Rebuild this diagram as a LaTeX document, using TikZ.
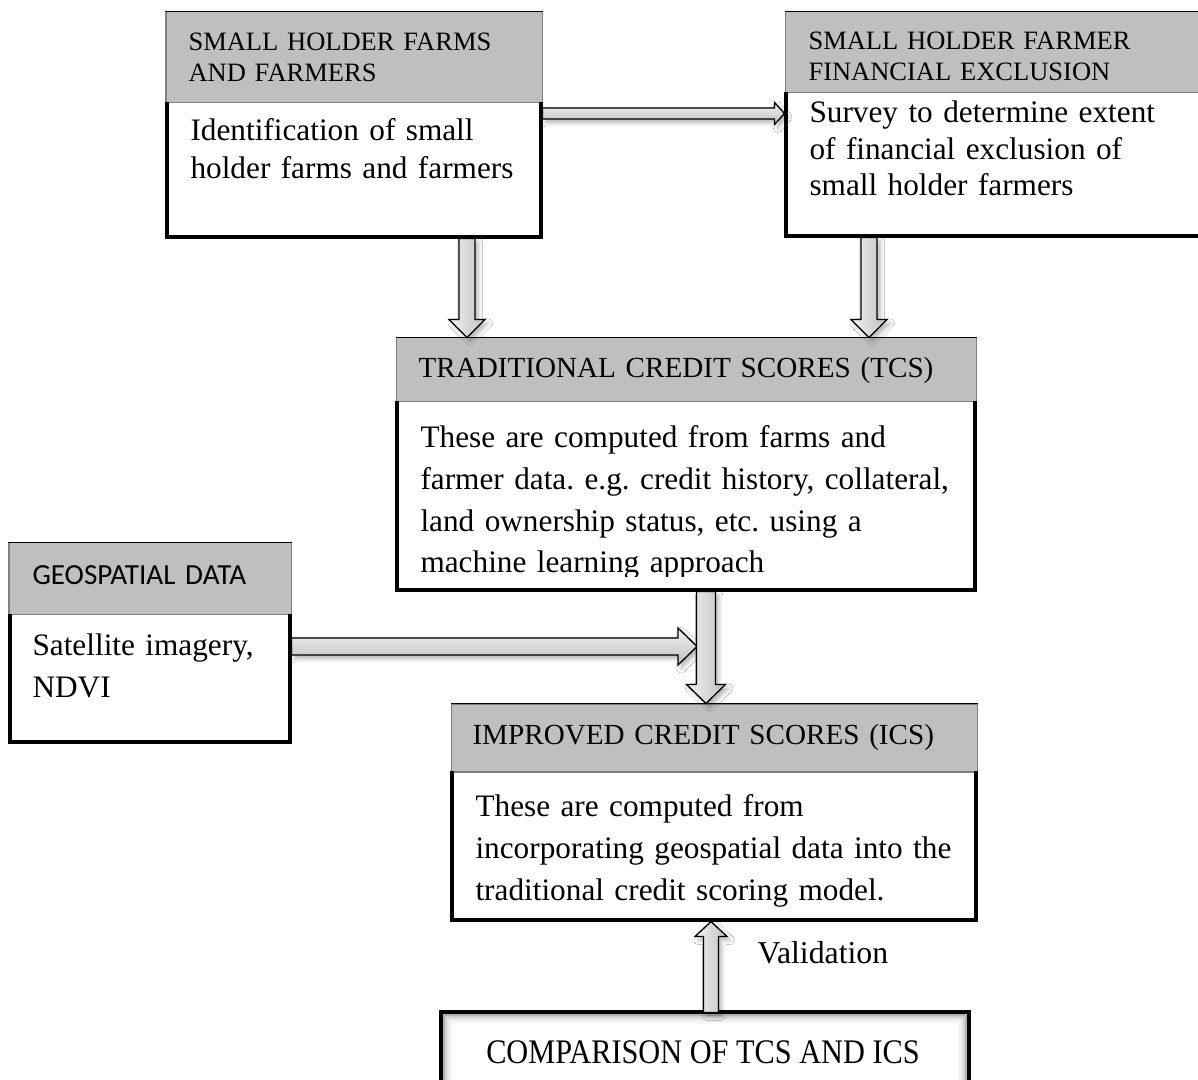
\documentclass[tikz,border=0pt]{standalone}
\usepackage{fontspec}
\setmainfont{Liberation Serif}
\newfontfamily\calibrifont{Carlito}
\usetikzlibrary{fit,calc,shadows.blur}
\frenchspacing

% one framed box: grey title strip on top, white body with heavy edges
\newcommand\flowbox[6]{%
  \node[bodybox, fit={(#2,#5)(#4,#6)}] (#1) {};
  \node[hdrbox, fit={(#2,#3)(#4,#5)}] (#1H) {};
  \draw[thickedge] ([xshift=0.75pt]#1.north west) -- ([xshift=0.75pt,yshift=0.75pt]#1.south west)
     -- ([xshift=-0.75pt,yshift=0.75pt]#1.south east) -- ([xshift=-0.75pt]#1.north east);
  \draw[topedge] (#1H.north west) -- (#1H.north east);
}

\begin{document}
\begin{tikzpicture}[x=0.3774pt, y=-0.3774pt,
  hdrbox/.style={fill=black!25, draw=black!50, line width=0.38pt, inner sep=0pt},
  bodybox/.style={fill=white, inner sep=0pt},
  thickedge/.style={line width=1.51pt, line join=miter},
  topedge/.style={line width=0.6pt},
  txt/.style={anchor=base west, inner sep=0pt, align=left, text width=9cm},
  hfont/.style={font=\fontsize{10}{11.4}\selectfont},
  arrowbody/.style={draw=black, line width=0.5pt, line join=miter,
    blur shadow={shadow xshift=1.2pt, shadow yshift=-1.4pt, shadow blur radius=1.6pt, shadow opacity=30}},
  vshade/.style={left color=black!5, right color=black!25},
  hshade/.style={top color=black!5, bottom color=black!25},
  % block arrow: shaft half width, head half width, head length (in px units)
  blockarrow/.style n args={3}{to path={
    let \p1=(\tikztostart), \p2=(\tikztotarget),
        \n1={veclen(\x2-\x1,\y2-\y1)},
        \n2={(\x2-\x1)/\n1}, \n3={(\y2-\y1)/\n1},
        \p3=({\x2-#3*0.3774pt*(\n2)},{\y2-#3*0.3774pt*(\n3)})
    in ({\x1-#1*0.3774pt*(\n3)},{\y1+#1*0.3774pt*(\n2)})
    -- ({\x3-#1*0.3774pt*(\n3)},{\y3+#1*0.3774pt*(\n2)})
    -- ({\x3-#2*0.3774pt*(\n3)},{\y3+#2*0.3774pt*(\n2)})
    -- (\p2)
    -- ({\x3+#2*0.3774pt*(\n3)},{\y3-#2*0.3774pt*(\n2)})
    -- ({\x3+#1*0.3774pt*(\n3)},{\y3-#1*0.3774pt*(\n2)})
    -- ({\x1+#1*0.3774pt*(\n3)},{\y1-#1*0.3774pt*(\n2)})
    -- cycle}}
]
\path[use as bounding box, fill=white] (0,0) rectangle (1198,1080);
\clip (0,0) rectangle (1198,1080);

% boxes
\flowbox{farms}{166}{12}{542}{103}{238}
\flowbox{finex}{785}{12}{1215}{93}{237}
\flowbox{tcs}{396}{338}{976}{402}{591}
\flowbox{geo}{9}{543}{291}{615}{743}
\flowbox{ics}{451}{704}{977}{772}{921}

% comparison box with inner glow
\node[bodybox, fit={(442,1013)(968,1100)}] (comp) {};
\foreach \d/\c in {1/45,3/30,5/18,7/10,9/5}
  \draw[black!\c, line width=0.8pt] ([shift={(\d,\d)}]comp.north west) rectangle ([shift={(-\d,-\d)}]comp.south east);
\draw[thickedge] (comp.north west) rectangle (comp.south east);

% texts
\node[txt, hfont] (farmsT) at (188,51) {SMALL HOLDER FARMS\\AND FARMERS};
\node[txt, font=\fontsize{11.8}{14}\selectfont] (farmsB) at (190,141) {Identification of small\\holder farms and farmers};
\node[txt, hfont] (finexT) at (808,50) {SMALL HOLDER FARMER\\FINANCIAL EXCLUSION};
\node[txt, font=\fontsize{11.8}{13.6}\selectfont] (finexB) at (809,123) {Survey to determine extent\\of financial exclusion of\\small holder farmers};
\node[txt, font=\fontsize{11}{12.6}\selectfont] (tcsT) at (418,378) {TRADITIONAL CREDIT SCORES (TCS)};
\begin{scope}
  \clip (396,402) rectangle (976,577);
  \node[txt, font=\fontsize{11.8}{15.7}\selectfont] (tcsB) at (420,448) {These are computed from farms and\\farmer data. e.g. credit history, collateral,\\land ownership status, etc. using a\\machine learning approach};
\end{scope}
\node[txt, font=\calibrifont\fontsize{11}{13}\selectfont] (geoT) at (32,585) {GEOSPATIAL DATA};
\node[txt, font=\fontsize{11.8}{15.8}\selectfont] (geoB) at (32,656) {Satellite imagery,\\NDVI};
\node[txt, font=\fontsize{11}{12.6}\selectfont] (icsT) at (472,745) {IMPROVED CREDIT SCORES (ICS)};
\node[txt, font=\fontsize{11.8}{15.7}\selectfont] (icsB) at (475,817) {These are computed from\\incorporating geospatial data into the\\traditional credit scoring model.};
\node[anchor=base west, inner sep=0pt, font=\fontsize{12}{14}\selectfont] (valid) at (757,963) {Validation};
\node[anchor=base, inner sep=0pt, font=\fontsize{13}{15}\selectfont] (compT) at (703,1063) {\scalebox{0.88}[1]{COMPARISON OF TCS AND ICS}};

% arrow guide coordinates
\coordinate (xA) at (467,0);
\coordinate (xB) at (869,0);
\coordinate (xC) at (706,0);
\coordinate (xD) at (711,0);
\coordinate (yAB) at (0,113.5);
\coordinate (yG) at (0,646.5);
\coordinate (gtip) at (697,646.5);

% arrows
\path[arrowbody, hshade] (farms.east |- yAB) to[blockarrow={5.5}{11}{10}] (finex.west |- yAB);
\path[arrowbody, vshade] (farms.south -| xA) to[blockarrow={8}{18}{18}] (tcsH.north -| xA);
\path[arrowbody, vshade] (finex.south -| xB) to[blockarrow={8}{18}{18}] (tcsH.north -| xB);
\path[arrowbody, hshade] (geo.east |- yG) to[blockarrow={8.5}{18.5}{19}] (gtip);
\path[arrowbody, vshade] (tcs.south -| xC) to[blockarrow={9.5}{19.5}{19}] (icsH.north -| xC);
\path[arrowbody, vshade] (comp.north -| xD) to[blockarrow={7.5}{16}{15}] (ics.south -| xD);
\end{tikzpicture}
\end{document}
